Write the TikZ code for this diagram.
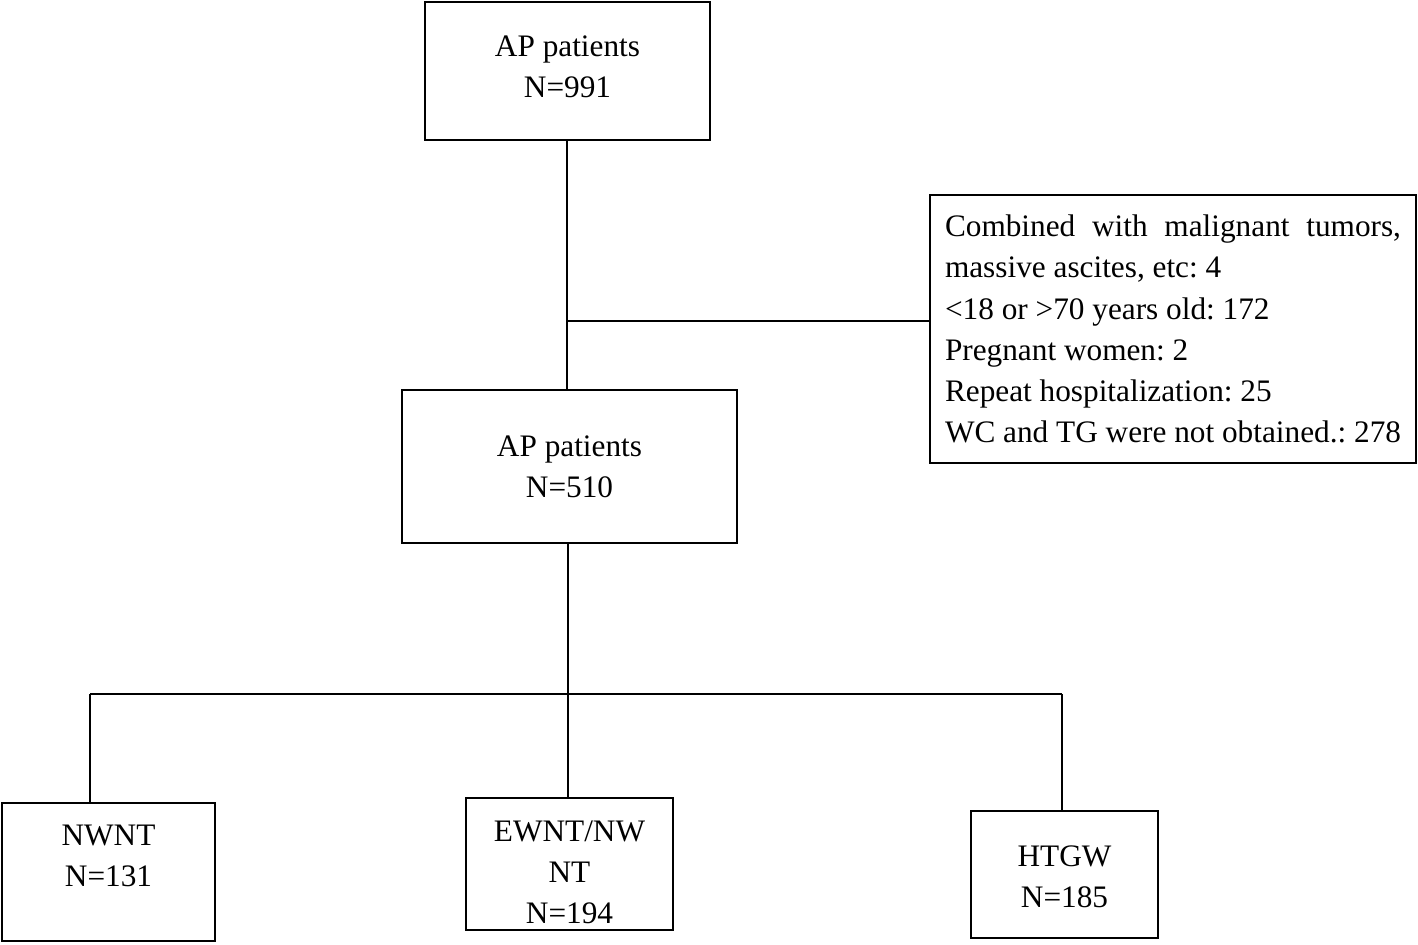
\documentclass[tikz,border=0pt]{standalone}
\usepackage{fontspec}
\setmainfont{Liberation Serif}
\frenchspacing
\usetikzlibrary{calc}
\tikzset{
    stage/.style = {
        draw, line width=0.8pt, rectangle,
        outer sep=0,
        inner sep=0
    },
    txt/.style = {
        align=center,
        outer sep=0,
        inner sep=0,
        font=\fontsize{8.9}{11.7}\selectfont
    },
    excl/.style = {
        draw, line width=0.55pt, rectangle, align=justify,
        outer sep=0,
        inner xsep=0.15cm,
        inner ysep=0,
        text width=4.56cm,
        minimum width=4.86cm,
        minimum height=2.68cm,
        font=\fontsize{8.9}{11.7}\selectfont
    },
    link/.style = {
        draw, line width=0.45pt
    }
}

\begin{document}
\begin{tikzpicture}
\useasboundingbox (0,0) rectangle (14.18,-9.44);

% 1. boxes
\node[stage,minimum width=2.85cm,minimum height=1.38cm] (AP1) at (5.675,-0.71) {};
\node[stage,line width=0.65pt,minimum width=3.35cm,minimum height=1.53cm] (AP2) at (5.695,-4.665) {};
\node[stage,minimum width=2.13cm,minimum height=1.38cm] (NWNT) at (1.085,-8.72) {};
\node[stage,minimum width=2.07cm,minimum height=1.32cm] (EWNT) at (5.695,-8.64) {};
\node[stage,minimum width=1.87cm,minimum height=1.27cm] (HTGW) at (10.645,-8.745) {};
\node[excl] (ex) at (11.73,-3.29) {Combined with malignant tumors, massive ascites, etc: 4\\
  {<}18 or {>}70 years old: 172\\
  Pregnant women: 2\\
  Repeat hospitalization: 25\\
  WC and TG were not obtained.: 278};

% 2. texts -- shifted a bit inside the boxes
\node[txt] (AP1t)  at ($(AP1)+(0,.04)$)   {AP patients\\ N=991};
\node[txt] (AP2t)  at (AP2)               {AP patients\\ N=510};
\node[txt] (NWNTt) at ($(NWNT)+(0,.16)$)  {NWNT\\ N=131};
\node[txt] (EWNTt) at ($(EWNT)+(0,-.08)$) {EWNT/NW\\ NT\\ N=194};
\node[txt] (HTGWt) at ($(HTGW)+(0,-.02)$) {HTGW\\ N=185};

% 3. junction points
\coordinate (j1) at (5.67,-3.21);
\coordinate (j2) at (5.68,-6.94);
\coordinate (j3) at (0.90,-6.94);
\coordinate (j4) at (10.62,-6.94);

% 4. connectors
\draw[link] (AP1.south -| j1) -- (j1 |- AP2.north);
\draw[link] (j1) -- (j1 -| ex.west);
\draw[link] (AP2.south -| j2) -- (j2 |- EWNT.north);
\draw[link] (j3) -- (j4);
\draw[link] (j3) -- (j3 |- NWNT.north);
\draw[link] (j4) -- (j4 |- HTGW.north);

\end{tikzpicture}
\end{document}
